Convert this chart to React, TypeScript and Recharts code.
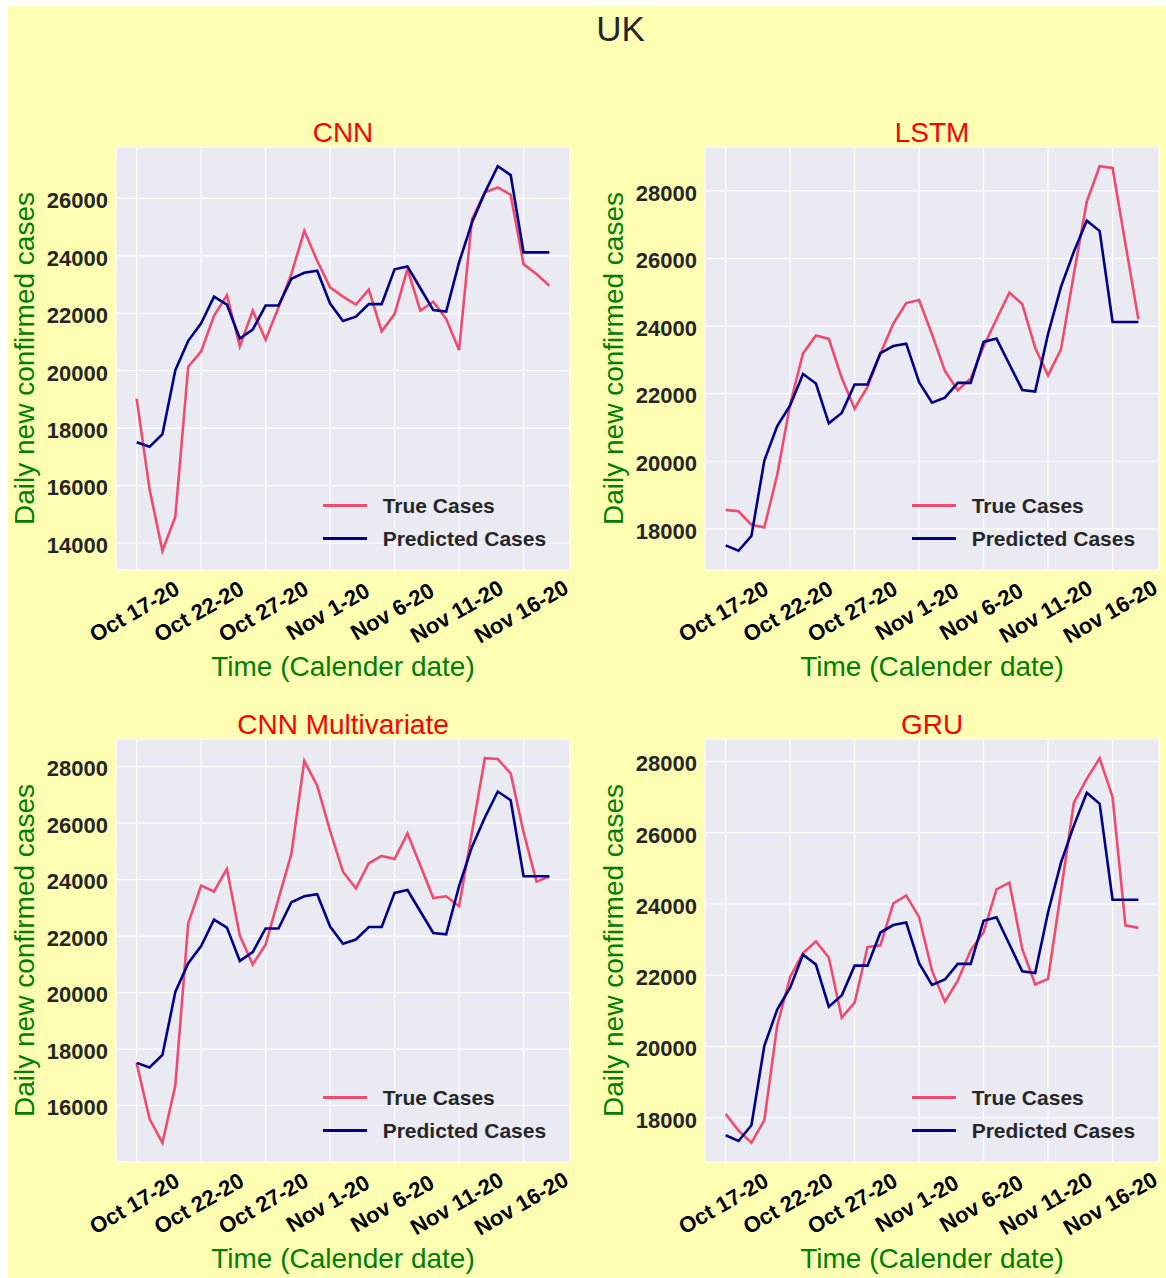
import React from 'react';
import { LineChart, Line, XAxis, YAxis, CartesianGrid, Legend } from 'recharts';

// one label per day, Oct 17 .. Nov 18 (2020)
const dates = [
  'Oct 17-20', 'Oct 18-20', 'Oct 19-20', 'Oct 20-20', 'Oct 21-20', 'Oct 22-20', 'Oct 23-20',
  'Oct 24-20', 'Oct 25-20', 'Oct 26-20', 'Oct 27-20', 'Oct 28-20', 'Oct 29-20', 'Oct 30-20',
  'Oct 31-20', 'Nov 1-20', 'Nov 2-20', 'Nov 3-20', 'Nov 4-20', 'Nov 5-20', 'Nov 6-20',
  'Nov 7-20', 'Nov 8-20', 'Nov 9-20', 'Nov 10-20', 'Nov 11-20', 'Nov 12-20', 'Nov 13-20',
  'Nov 14-20', 'Nov 15-20', 'Nov 16-20', 'Nov 17-20', 'Nov 18-20',
];
const tickDays = [0, 5, 10, 15, 20, 25, 30];

const predicted = [
  17510, 17350, 17790, 20020, 21040, 21650, 22580, 22300, 21120, 21430, 22270,
  22270, 23200, 23410, 23480, 22340, 21730, 21880, 22320, 22320, 23530, 23630,
  22870, 22110, 22060, 23770, 25160, 26200, 27120, 26810, 24120, 24120, 24120,
];

const cnnTrue = [
  19030, 15880, 13730, 14920, 20140, 20670, 21910, 22630, 20850, 22090, 21080,
  22200, 23370, 24870, 23830, 22900, 22580, 22300, 22820, 21370, 21970, 23540,
  22090, 22400, 21800, 20720, 25280, 26210, 26380, 26130, 23710, 23370, 22960,
];
const lstmTrue = [
  18560, 18520, 18120, 18040, 19600, 21680, 23190, 23720, 23620, 22470, 21560,
  22200, 23190, 24070, 24680, 24770, 23760, 22670, 22100, 22450, 23400, 24200,
  24990, 24650, 23360, 22540, 23310, 25540, 27680, 28730, 28680, 26430, 24200,
];
const cnnMultiTrue = [
  17500, 15530, 14680, 16710, 22450, 23790, 23580, 24380, 22020, 20990, 21700,
  23320, 24910, 28210, 27330, 25730, 24280, 23690, 24580, 24840, 24730, 25640,
  24500, 23350, 23410, 23060, 25680, 28300, 28270, 27760, 25680, 23930, 24110,
];
const gruTrue = [
  18110, 17640, 17300, 17930, 20590, 21950, 22620, 22950, 22500, 20810, 21230,
  22790, 22840, 24020, 24240, 23630, 22130, 21260, 21850, 22700, 23210, 24410,
  24600, 22740, 21740, 21900, 24350, 26840, 27510, 28090, 27000, 23400, 23330,
];

const cnnTicks = [14000, 16000, 18000, 20000, 22000, 24000, 26000];
const lstmTicks = [18000, 20000, 22000, 24000, 26000, 28000];
const cnnMultiTicks = [16000, 18000, 20000, 22000, 24000, 26000, 28000];
const gruTicks = [18000, 20000, 22000, 24000, 26000, 28000];

const seriesNames = ['True Cases', 'Predicted Cases'];

const RED = '#f04b6e';
const NAVY = '#00008b';
const GREEN = '#008000';
const FONT = '"Liberation Sans", Arial, sans-serif';

const PLOT_W = 454;
const PLOT_H = 423;
const Y_AXIS_W = 110;
const X_AXIS_H = 90;

const panels = [
  { title: 'CNN', values: cnnTrue, ticks: cnnTicks, left: 116, top: 147 },
  { title: 'LSTM', values: lstmTrue, ticks: lstmTicks, left: 705, top: 147 },
  { title: 'CNN Multivariate', values: cnnMultiTrue, ticks: cnnMultiTicks, left: 116, top: 739 },
  { title: 'GRU', values: gruTrue, ticks: gruTicks, left: 705, top: 739 },
];

// matplotlib style autoscale: 5% margin on each side
const padded = (a: number[], b: number[]): [number, number] => {
  const lo = Math.min(...a, ...b);
  const hi = Math.max(...a, ...b);
  const m = (hi - lo) * 0.05;
  return [lo - m, hi + m];
};

const XTick = ({ x, y, payload }: any) => {
  const px = x + 1.5;
  const py = y + 48;
  return (
    <text x={px} y={py} textAnchor="middle" transform={`rotate(-30, ${px}, ${py})`}
      fontSize={22} fontWeight="bold" fill="#000" fontFamily={FONT}>
      {dates[payload.value]}
    </text>
  );
};

const YTick = ({ x, y, payload }: any) => (
  <text x={x} y={y} dy={9.8} textAnchor="end" fontSize={22} fontWeight="bold"
    fill="#262626" fontFamily={FONT}>
    {payload.value}
  </text>
);

const LegendBox = ({ payload }: any) => {
  const items = [...(payload || [])].sort(
    (a: any, b: any) => seriesNames.indexOf(a.value) - seriesNames.indexOf(b.value)
  );
  return (
    <div style={{ fontFamily: FONT }}>
      {items.map((p: any) => (
        <div key={p.value} style={{ display: 'flex', alignItems: 'center', height: 32.7 }}>
          <div style={{ width: 44, height: 3, background: p.color, marginRight: 16 }} />
          <span style={{ fontSize: 21, fontWeight: 'bold', color: '#262626', whiteSpace: 'nowrap' }}>
            {p.value}
          </span>
        </div>
      ))}
    </div>
  );
};

const Panel = ({ values, ticks }: { values: number[]; ticks: number[] }) => {
  const rows = dates.map((d, i) => ({ day: i, date: d, trueCases: values[i], predicted: predicted[i] }));
  return (
    <LineChart
      width={Y_AXIS_W + PLOT_W + 10}
      height={10 + PLOT_H + X_AXIS_H + 10}
      data={rows}
      margin={{ top: 10, right: 10, bottom: 10, left: 0 }}
    >
      <CartesianGrid fill="#eaeaf2" stroke="#ffffff" strokeWidth={1.2} />
      <XAxis
        dataKey="day"
        type="number"
        domain={[-1.6, 33.6]}
        ticks={tickDays}
        height={X_AXIS_H}
        axisLine={false}
        tickLine={false}
        tickSize={0}
        tickMargin={0}
        tick={<XTick />}
      />
      <YAxis
        type="number"
        domain={padded(values, predicted)}
        ticks={ticks}
        width={Y_AXIS_W}
        axisLine={false}
        tickLine={false}
        tick={<YTick />}
      />
      <Legend
        layout="vertical"
        align="center"
        verticalAlign="middle"
        content={<LegendBox />}
        wrapperStyle={{ left: Y_AXIS_W + 206.7, top: 10 + PLOT_H - 80.4, width: 240, height: 66 }}
      />
      <Line type="linear" dataKey="trueCases" name={seriesNames[0]} stroke={RED}
        strokeWidth={2.6} dot={false} isAnimationActive={false} />
      <Line type="linear" dataKey="predicted" name={seriesNames[1]} stroke={NAVY}
        strokeWidth={2.6} dot={false} isAnimationActive={false} />
    </LineChart>
  );
};

export default function App() {
  return (
    <div style={{ position: 'absolute', left: 0, top: 0, width: 1166, height: 1278, background: '#ffffff', fontFamily: FONT }}>
      <div style={{ position: 'absolute', left: 8, top: 6, width: 1158, height: 1272, background: '#ffffb3' }} />
      {panels.map((p) => (
        <div key={p.title} style={{ position: 'absolute', left: p.left - Y_AXIS_W, top: p.top - 10 }}>
          <Panel values={p.values} ticks={p.ticks} />
        </div>
      ))}
      <svg width={1166} height={1278} style={{ position: 'absolute', left: 0, top: 0, pointerEvents: 'none' }}
        fontFamily={FONT}>
        <text x={620.5} y={40.5} textAnchor="middle" fontSize={35} fill="#262626">UK</text>
        {panels.map((p) => {
          const cx = p.left + PLOT_W / 2;
          const cy = p.top + PLOT_H / 2;
          const yx = p.left - 82.5;
          return (
            <g key={p.title}>
              <text x={cx} y={p.top - 5.3} textAnchor="middle" fontSize={28} fill="#ff0000">{p.title}</text>
              <text x={cx} y={p.top + PLOT_H + 106} textAnchor="middle" fontSize={28} fill={GREEN}>
                Time (Calender date)
              </text>
              <text x={yx} y={cy} textAnchor="middle" fontSize={28} fill={GREEN}
                transform={`rotate(-90, ${yx}, ${cy})`}>
                Daily new confirmed cases
              </text>
            </g>
          );
        })}
      </svg>
    </div>
  );
}
